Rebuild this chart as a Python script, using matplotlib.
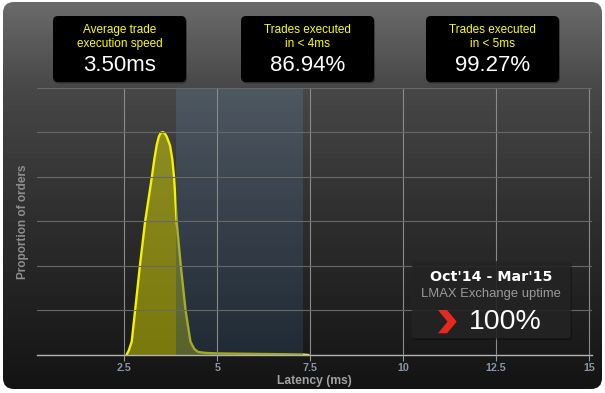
import numpy as np
import matplotlib
matplotlib.use('Agg')
import matplotlib.pyplot as plt
from matplotlib.patches import FancyBboxPatch, Polygon

# Latency distribution (y in grid units, peak ~5 of 6)
latency_ms = [2.56, 2.62, 2.70, 2.79, 2.92, 3.06, 3.24, 3.31, 3.37, 3.43, 3.48, 3.53,
              3.58, 3.64, 3.73, 3.79, 3.84, 3.91, 4.02, 4.15, 4.28, 4.38, 4.48, 4.60,
              4.72, 5.00, 5.50, 6.00, 6.50, 7.00, 7.30, 7.45]
proportion = [0.0, 0.1, 0.3, 0.99, 2.0, 2.99, 3.98, 4.4, 4.7, 4.9, 4.98, 5.0,
              4.98, 4.9, 4.7, 4.4, 3.98, 2.98, 2.0, 0.99, 0.3, 0.14, 0.07, 0.055,
              0.045, 0.035, 0.03, 0.025, 0.02, 0.015, 0.01, 0.0]

# Highlighted latency band
band_start, band_end = 3.88, 7.27

x_ticks = [2.5, 5, 7.5, 10, 12.5, 15]
x_tick_labels = ['2.5', '5', '7.5', '10', '12.5', '15']

# Summary boxes
stat_titles = ['Average trade\nexecution speed', 'Trades executed\nin < 4ms', 'Trades executed\nin < 5ms']
stat_values = ['3.50ms', '86.94%', '99.27%']

uptime_period = "Oct'14 - Mar'15"
uptime_label = 'LMAX Exchange uptime'
uptime_value = '100%'

W, H = 605, 393
fig = plt.figure(figsize=(W / 100, H / 100), dpi=100, facecolor='white')

# Background panel with a vertical gradient
bg = fig.add_axes([0, 0, 1, 1], zorder=0)
bg.set_xlim(0, W)
bg.set_ylim(H, 0)
bg.axis('off')
rows = np.arange(H)
shade = np.interp(rows, [0, 88, 220, 389], [0x6b, 0x47, 0x2e, 0x13]) / 255
grad = np.repeat(shade[:, None], 2, axis=1)
img = bg.imshow(grad, cmap='gray', vmin=0, vmax=1, extent=[0, W, H, 0], aspect='auto')
panel = FancyBboxPatch((3, 2), 599, 387, boxstyle='round,pad=0,rounding_size=11',
                       facecolor='none', edgecolor='none')
bg.add_patch(panel)
img.set_clip_path(panel)

# Main plot area
ax_l, ax_r, ax_t, ax_b = 36.7, 592.3, 87.5, 355
ax = fig.add_axes([ax_l / W, (H - ax_b) / H, (ax_r - ax_l) / W, (ax_b - ax_t) / H], zorder=1)
ax.patch.set_alpha(0)

ax.fill_between(latency_ms, proportion, 0, color='#e6e600', alpha=0.47, lw=0, zorder=1)
ax.plot(latency_ms, proportion, color='#f4f400', lw=1.7, zorder=1.5, solid_joinstyle='round')

# Blue gradient band over the curve
top_c = np.array([90, 112, 135]) / 255
bot_c = np.array([45, 68, 92]) / 255
t = np.linspace(0, 1, 100)[:, None]
band_rgb = top_c * (1 - t) + bot_c * t
band_rgba = np.zeros((100, 2, 4))
band_rgba[..., :3] = band_rgb[:, None, :]
band_rgba[..., 3] = 0.42
ax.imshow(band_rgba, extent=[band_start, band_end, 0, 6], aspect='auto', zorder=2,
          origin='upper')

ax.set_xlim(0.144, 15.09)
ax.set_ylim(0, 6)
ax.set_xticks(x_ticks)
ax.set_xticklabels(x_tick_labels)
ax.set_yticks(range(0, 7))
ax.set_yticklabels([])
ax.set_axisbelow(False)
ax.xaxis.grid(True, color='#8a8a8a', lw=0.8)
ax.yaxis.grid(True, color='#686868', lw=0.8)
for side in ['top', 'right', 'left']:
    ax.spines[side].set_visible(False)
ax.spines['bottom'].set_color('#b4b4b4')
ax.spines['bottom'].set_linewidth(1.0)
ax.tick_params(axis='y', length=0)
ax.tick_params(axis='x', length=4, color='#9a9a9a', width=0.8, pad=2,
               labelsize=7.7, labelcolor='#8896a8')
for lab in ax.get_xticklabels():
    lab.set_fontweight('bold')
    lab.set_fontfamily('Liberation Sans')
ax.set_xlabel('Latency (ms)', fontsize=8.7, fontweight='bold', color='#a2a2a2',
              family='Liberation Sans', labelpad=1.5)

# Overlay for boxes and labels (pixel coordinates)
ov = fig.add_axes([0, 0, 1, 1], zorder=3)
ov.set_xlim(0, W)
ov.set_ylim(H, 0)
ov.axis('off')

ov.text(23, 222, 'Proportion of orders', rotation=90, ha='center', va='center',
        fontsize=8.5, fontweight='bold', color='#8e8e8e', family='Liberation Sans')

box_left = [53, 241, 426]
box_w, box_h, box_top = 133, 66, 16
for x0, title, val in zip(box_left, stat_titles, stat_values):
    ov.add_patch(FancyBboxPatch((x0 + 1, box_top + 1.5), box_w, box_h,
                                boxstyle='round,pad=0,rounding_size=5',
                                facecolor='black', edgecolor='none', alpha=0.35))
    ov.add_patch(FancyBboxPatch((x0, box_top), box_w, box_h,
                                boxstyle='round,pad=0,rounding_size=5',
                                facecolor='black', edgecolor='none'))
    cx = x0 + box_w / 2
    ov.text(cx, 37, title, ha='center', va='center', fontsize=8.5, color='#ffff00',
            family='Liberation Sans', linespacing=1.3)
    ov.text(cx, 65.5, val, ha='center', va='center', fontsize=16, color='white',
            family='Liberation Sans')

# Uptime box
ov.add_patch(FancyBboxPatch((413, 263), 159, 77, boxstyle='round,pad=0,rounding_size=3',
                            facecolor='black', edgecolor='none', alpha=0.3))
ov.add_patch(FancyBboxPatch((411.7, 261), 159, 77.3, boxstyle='round,pad=0,rounding_size=3',
                            facecolor='#252525', edgecolor='none', alpha=0.85))
ov.text(490.7, 276.7, uptime_period, ha='center', va='center', fontsize=10.3,
        fontweight='bold', color='white', family='DejaVu Sans')
ov.text(490.7, 294, uptime_label, ha='center', va='center', fontsize=9.4,
        color='#9a9a9a', family='Liberation Sans')
ov.add_patch(Polygon([(438, 310), (447, 310), (456.7, 321.7), (447, 333.3),
                      (438, 333.3), (447.5, 321.7)], closed=True,
                     facecolor='#e8281e', edgecolor='none'))
ov.text(505, 321.7, uptime_value, ha='center', va='center', fontsize=20.5,
        color='white', family='Liberation Sans')

fig.savefig('out.png', dpi=100, facecolor='white')
